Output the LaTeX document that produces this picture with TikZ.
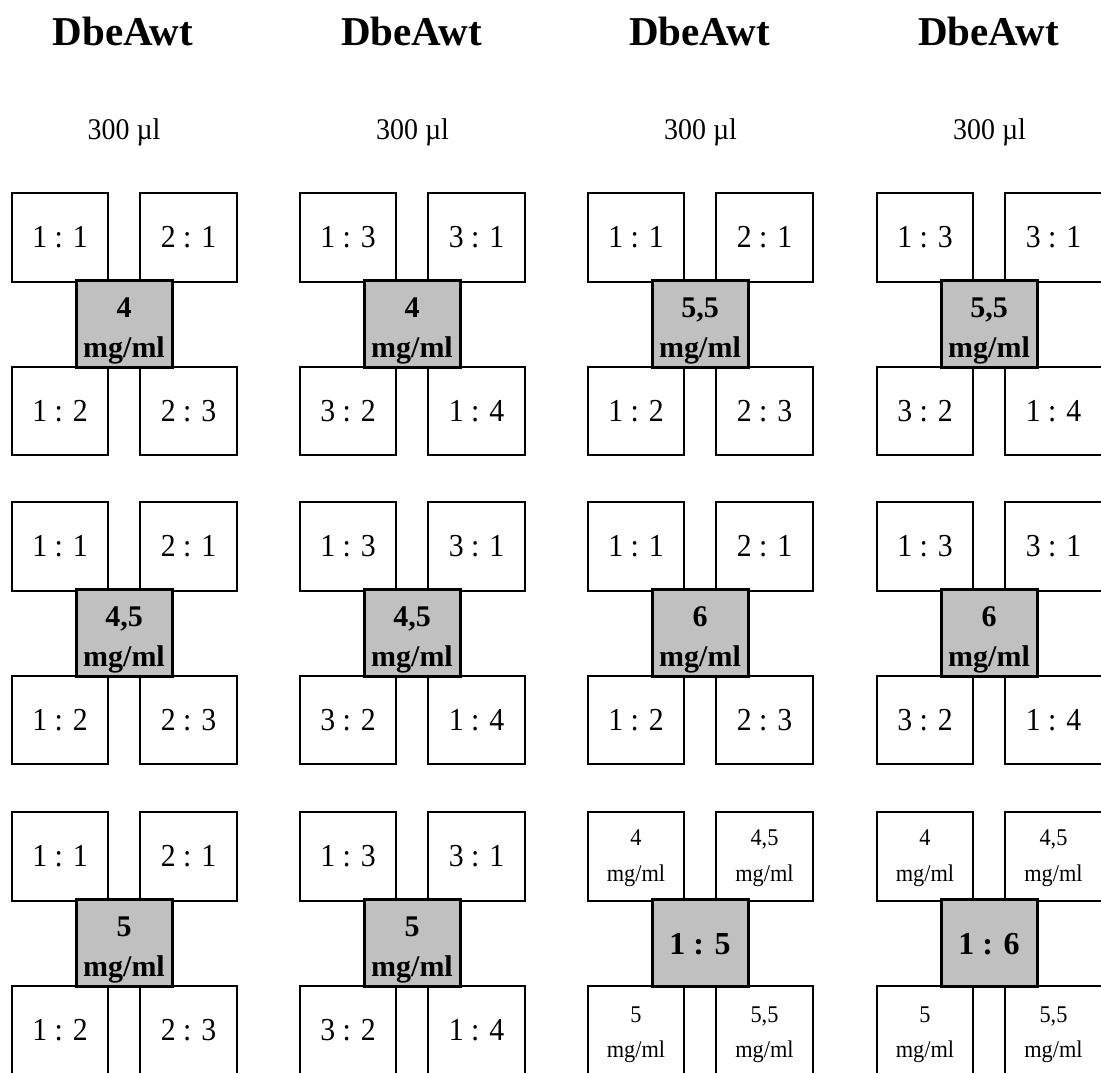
\documentclass[tikz,border=0pt]{standalone}
\usepackage{fontspec}
\usepackage{graphicx}
\setmainfont{Liberation Serif}
\definecolor{boxgray}{HTML}{C0C0C0}
\newcommand\cnd[1]{\scalebox{0.93}[1]{#1}}
\tikzset{
  wbox/.style={draw=black, line width=2pt, fill=white, inner sep=0pt, align=center,
    font=\fontsize{32}{38}\selectfont},
  smalltxt/.style={inner sep=0pt, anchor=base, font=\fontsize{24}{30}\selectfont},
  gbox/.style={draw=black, line width=3pt, fill=boxgray, inner sep=0pt},
  graytxt/.style={inner sep=0pt, font=\fontsize{30}{36}\selectfont\bfseries},
  ttl/.style={inner sep=0pt, font=\fontsize{41}{48}\selectfont\bfseries},
  vol/.style={inner sep=0pt, font=\fontsize{30}{36}\selectfont},
}
% #1 name, #2 x0, #3 y0, #4 TL, #5 TR, #6 BL, #7 BR, #8 gray value
\newcommand\ratioblock[8]{%
  \node[wbox, minimum width=96pt, minimum height=89pt] (#1tl) at (#2+48, #3+44.5) {\cnd{#4}};
  \node[wbox, minimum width=97pt, minimum height=89pt] (#1tr) at (#2+176.5, #3+44.5) {\cnd{#5}};
  \node[wbox, minimum width=96pt, minimum height=88pt] (#1bl) at (#2+48, #3+218) {\cnd{#6}};
  \node[wbox, minimum width=97pt, minimum height=88pt] (#1br) at (#2+176.5, #3+218) {\cnd{#7}};
  \node[gbox, minimum width=96pt, minimum height=87pt] (#1g) at (#2+112, #3+130.5) {};
  \node[graytxt, anchor=base] (#1ga) at (#2+112, #3+124) {#8};
  \node[graytxt, anchor=base] (#1gb) at (#2+112, #3+164) {mg/ml};
}
% #1 name, #2 x0, #3 y0, #4 gray ratio
\newcommand\concblock[4]{%
  \node[wbox, minimum width=96pt, minimum height=89pt] (#1tl) at (#2+48, #3+44.5) {};
  \node[wbox, minimum width=97pt, minimum height=89pt] (#1tr) at (#2+176.5, #3+44.5) {};
  \node[wbox, minimum width=96pt, minimum height=98pt] (#1bl) at (#2+48, #3+223) {};
  \node[wbox, minimum width=97pt, minimum height=98pt] (#1br) at (#2+176.5, #3+223) {};
  \node[smalltxt] (#1tla) at (#2+48, #3+33) {\cnd{4}};
  \node[smalltxt] (#1tlb) at (#2+48, #3+69) {\cnd{mg/ml}};
  \node[smalltxt] (#1tra) at (#2+176.5, #3+33) {\cnd{4,5}};
  \node[smalltxt] (#1trb) at (#2+176.5, #3+69) {\cnd{mg/ml}};
  \node[smalltxt] (#1bla) at (#2+48, #3+210) {\cnd{5}};
  \node[smalltxt] (#1blb) at (#2+48, #3+245) {\cnd{mg/ml}};
  \node[smalltxt] (#1bra) at (#2+176.5, #3+210) {\cnd{5,5}};
  \node[smalltxt] (#1brb) at (#2+176.5, #3+245) {\cnd{mg/ml}};
  \node[gbox, minimum width=96pt, minimum height=87pt] (#1g) at (#2+112, #3+130.5) {};
  \node[graytxt, font=\fontsize{32}{38}\selectfont\bfseries] (#1gt) at (#2+112, #3+132) {#4};
}
\begin{document}
\begin{tikzpicture}[x=1pt, y=-1pt]
\useasboundingbox (0,0) rectangle (1101,1072);
% headers
\foreach \i/\xc in {0/123, 1/411.5, 2/699.5, 3/988.5}{
  \node[ttl, anchor=base] (title\i) at (\xc, 45) {DbeAwt};
  \node[vol, anchor=base] (vol\i) at (\xc+1, 139) {\cnd{300 µl}};
}
% row 0
\ratioblock{a}{12}{193}{1 : 1}{2 : 1}{1 : 2}{2 : 3}{4}
\ratioblock{b}{300}{193}{1 : 3}{3 : 1}{3 : 2}{1 : 4}{4}
\ratioblock{c}{588}{193}{1 : 1}{2 : 1}{1 : 2}{2 : 3}{5,5}
\ratioblock{d}{877}{193}{1 : 3}{3 : 1}{3 : 2}{1 : 4}{5,5}
% row 1
\ratioblock{e}{12}{502}{1 : 1}{2 : 1}{1 : 2}{2 : 3}{4,5}
\ratioblock{f}{300}{502}{1 : 3}{3 : 1}{3 : 2}{1 : 4}{4,5}
\ratioblock{g}{588}{502}{1 : 1}{2 : 1}{1 : 2}{2 : 3}{6}
\ratioblock{h}{877}{502}{1 : 3}{3 : 1}{3 : 2}{1 : 4}{6}
% row 2
\ratioblock{i}{12}{812}{1 : 1}{2 : 1}{1 : 2}{2 : 3}{5}
\ratioblock{j}{300}{812}{1 : 3}{3 : 1}{3 : 2}{1 : 4}{5}
\concblock{k}{588}{812}{1 : 5}
\concblock{l}{877}{812}{1 : 6}
\end{tikzpicture}
\end{document}
